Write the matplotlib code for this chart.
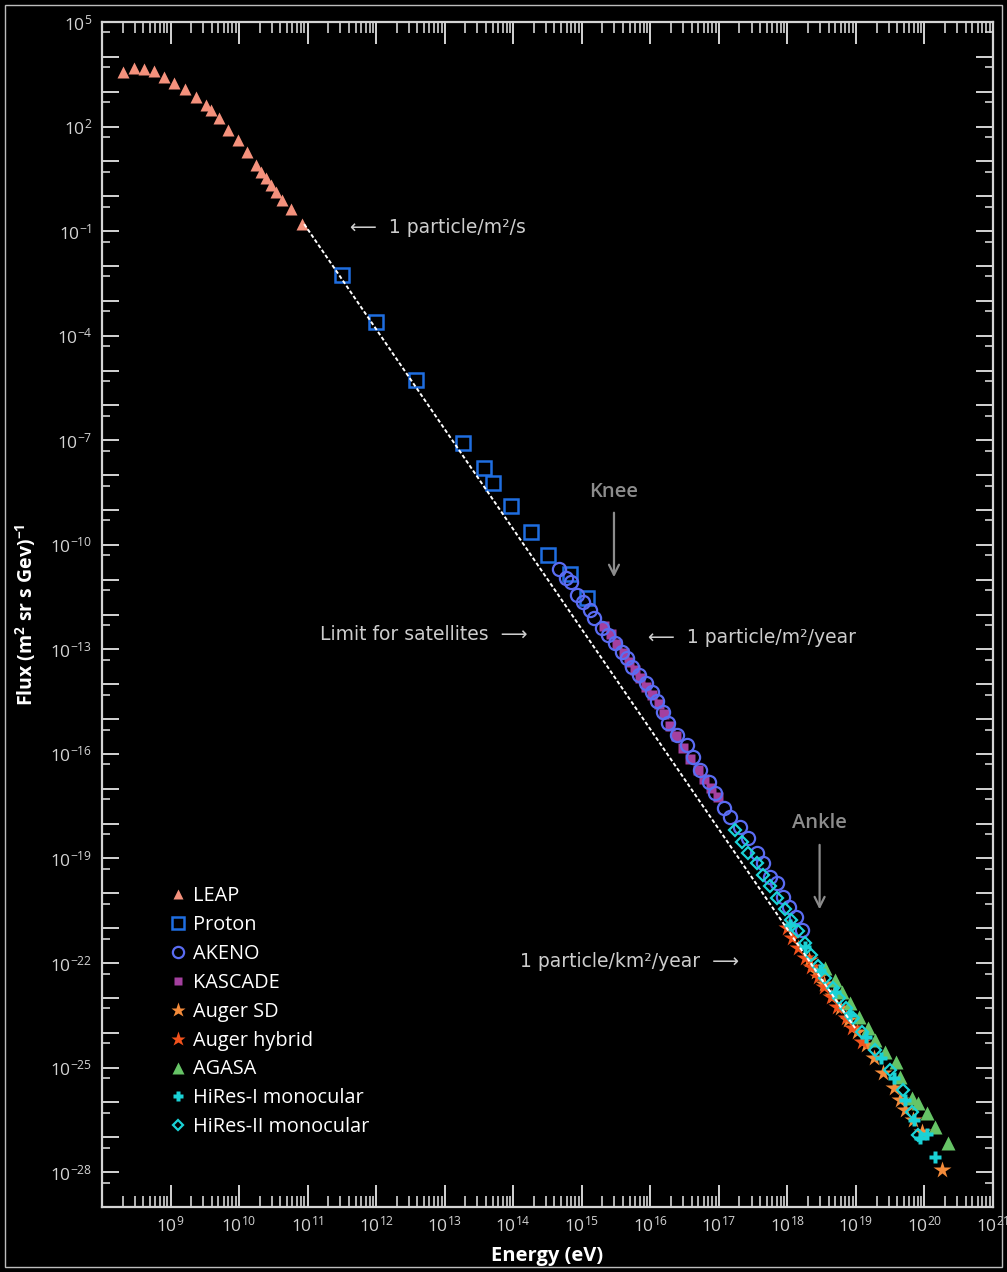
import numpy as np
import matplotlib
matplotlib.use('Agg')
import matplotlib.pyplot as plt
from matplotlib.ticker import FixedLocator, FuncFormatter, NullFormatter
from matplotlib.patches import Rectangle

# =============================================================================
#  Data (log10 energy in eV, log10 flux)
# =============================================================================

leap_logE = [8.31, 8.46, 8.61, 8.76, 8.91, 9.05, 9.21, 9.37, 9.52, 9.59, 9.71,
             9.84, 9.98, 10.11, 10.25, 10.32, 10.39, 10.46, 10.54, 10.62, 10.76, 10.92]
leap_logF = [3.57, 3.67, 3.65, 3.60, 3.41, 3.24, 3.07, 2.86, 2.62, 2.48, 2.24,
             1.90, 1.61, 1.28, 0.90, 0.70, 0.52, 0.32, 0.13, -0.11, -0.37, -0.80]

proton_logE = [11.50, 12.00, 12.58, 13.26, 13.57, 13.71, 13.97, 14.26, 14.50, 14.83, 15.08]
proton_logF = [-2.26, -3.60, -5.27, -7.07, -7.81, -8.24, -8.89, -9.63, -10.29, -10.84, -11.53]

akeno_logE = [14.67, 14.77, 14.85, 14.93, 15.02, 15.12, 15.18, 15.30, 15.39, 15.49,
              15.59, 15.66, 15.74, 15.83, 15.93, 16.02, 16.10, 16.18, 16.26, 16.39,
              16.54, 16.63, 16.73, 16.85, 16.95, 17.07, 17.17, 17.31, 17.43, 17.56,
              17.65, 17.75, 17.85, 17.93, 18.02, 18.12, 18.22]
akeno_logF = [-10.70, -10.95, -11.07, -11.44, -11.64, -11.87, -12.10, -12.39, -12.59, -12.82,
              -13.08, -13.25, -13.51, -13.74, -13.97, -14.23, -14.48, -14.80, -15.12, -15.46,
              -15.75, -16.09, -16.46, -16.81, -17.12, -17.55, -17.81, -18.10, -18.42, -18.85,
              -19.13, -19.53, -19.71, -20.11, -20.40, -20.68, -21.06]

kascade_logE = [15.33, 15.42, 15.52, 15.61, 15.69, 15.78, 15.85, 15.94, 16.03, 16.12,
                16.20, 16.29, 16.38, 16.48, 16.58, 16.69, 16.79, 16.89, 16.99]
kascade_logF = [-12.33, -12.56, -12.85, -13.11, -13.36, -13.59, -13.82, -14.08, -14.31, -14.57,
                -14.86, -15.20, -15.49, -15.83, -16.15, -16.46, -16.72, -16.98, -17.24]

auger_sd_logE = [18.31, 18.42, 18.54, 18.66, 18.77, 18.89, 19.01, 19.14, 19.26, 19.40,
                 19.55, 19.65, 19.72, 19.84, 19.97, 20.26]
auger_sd_logF = [-21.92, -22.26, -22.60, -22.95, -23.29, -23.64, -23.98, -24.35, -24.73, -25.16,
                 -25.59, -25.93, -26.22, -26.51, -26.85, -27.94]

auger_hy_logE = [17.99, 18.07, 18.16, 18.25, 18.34, 18.44, 18.53, 18.63, 18.73, 18.85, 18.95, 19.09]
auger_hy_logF = [-21.00, -21.28, -21.57, -21.86, -22.12, -22.40, -22.69, -22.98, -23.26, -23.58,
                 -23.87, -24.27]

agasa_logE = [18.55, 18.70, 18.80, 18.92, 19.04, 19.17, 19.28, 19.43, 19.58, 19.65,
              19.82, 19.91, 20.04, 20.16, 20.35]
agasa_logF = [-22.15, -22.49, -22.83, -23.15, -23.55, -23.87, -24.21, -24.56, -24.84, -25.27,
              -25.88, -26.02, -26.31, -26.71, -27.17]

hires1_logE = [18.04, 18.26, 18.48, 18.70, 18.92, 19.14, 19.36, 19.55, 19.72, 19.85,
               19.93, 20.04, 20.16]
hires1_logF = [-20.91, -21.54, -22.20, -22.83, -23.49, -24.13, -24.73, -25.30, -25.93, -26.51,
               -27.02, -26.91, -27.57]

hires2_logE = [17.24, 17.34, 17.43, 17.56, 17.65, 17.75, 17.85, 17.96, 18.06, 18.16,
               18.25, 18.35, 18.45, 18.55, 18.66, 18.76, 18.86, 18.96, 19.09, 19.28,
               19.49, 19.68, 19.82, 19.91]
hires2_logF = [-18.19, -18.53, -18.85, -19.13, -19.48, -19.79, -20.14, -20.45, -20.77, -21.08,
               -21.43, -21.77, -22.09, -22.43, -22.72, -23.01, -23.29, -23.58, -23.98, -24.50,
               -25.07, -25.65, -26.28, -26.94]

# extrapolated spectrum (dashed white line), end points
line_logE = [10.95, 19.00]
line_logF = [-0.80, -23.90]

# tick labels
xlabel_exps = list(range(9, 22))
ylabel_exps = [5, 2, -1, -4, -7, -10, -13, -16, -19, -22, -25, -28]

# =============================================================================
#  Style
# =============================================================================

plt.rcParams['font.family'] = ['Open Sans', 'DejaVu Sans']
plt.rcParams['mathtext.fontset'] = 'custom'
plt.rcParams['mathtext.rm'] = 'Open Sans'
plt.rcParams['mathtext.it'] = 'Open Sans:italic'
plt.rcParams['mathtext.bf'] = 'Open Sans:bold'
plt.rcParams['mathtext.default'] = 'regular'

fg = '#d4d4d4'
ann = '#cdcdcd'
grey = '#8c8c8c'

fig = plt.figure(figsize=(10.07, 12.72), dpi=100, facecolor='black')
ax = fig.add_axes([102 / 1007, 1 - 1207 / 1272, 891 / 1007, 1185 / 1272])
ax.set_facecolor('black')
ax.set_xscale('log')
ax.set_yscale('log')
ax.set_xlim(1e8, 1e21)
ax.set_ylim(1e-29, 1e5)

def p(a):
    return 10.0 ** np.asarray(a)

# dashed reference line
ax.plot(p(line_logE), p(line_logF), color='white', lw=1.4,
        linestyle=(0, (2.0, 1.2)), zorder=6)

# data series
ax.plot(p(leap_logE), p(leap_logF), ls='none', marker='^', ms=8.5,
        color='#f4917c', mec='none', label='LEAP', zorder=3)
ax.plot(p(proton_logE), p(proton_logF), ls='none', marker='s', ms=10,
        mfc='none', mec='#1f6ee0', mew=1.8, label='Proton', zorder=3)
ax.plot(p(akeno_logE), p(akeno_logF), ls='none', marker='o', ms=9.5,
        mfc='none', mec='#5a6cf2', mew=1.6, label='AKENO', zorder=4)
ax.plot(p(kascade_logE), p(kascade_logF), ls='none', marker='s', ms=7,
        color='#a4409f', mec='none', label='KASCADE', zorder=3)
ax.plot(p(auger_sd_logE), p(auger_sd_logF), ls='none', marker='*', ms=13,
        color='#f48b3a', mec='none', label='Auger SD', zorder=4)
ax.plot(p(auger_hy_logE), p(auger_hy_logF), ls='none', marker='*', ms=13,
        color='#f2521c', mec='none', label='Auger hybrid', zorder=4)
ax.plot(p(agasa_logE), p(agasa_logF), ls='none', marker='^', ms=10.5,
        color='#66c466', mec='none', label='AGASA', zorder=4)
ax.plot(p(hires1_logE), p(hires1_logF), ls='none', marker='P', ms=9,
        color='#1ad2d6', mec='none', label='HiRes-I monocular', zorder=5)
ax.plot(p(hires2_logE), p(hires2_logF), ls='none', marker='D', ms=6,
        mfc='none', mec='#1ad2d6', mew=1.6, label='HiRes-II monocular', zorder=5)

# =============================================================================
#  Axes, ticks
# =============================================================================

for s in ax.spines.values():
    s.set_color(fg)
    s.set_linewidth(1.6)

ax.xaxis.set_major_locator(FixedLocator(10.0 ** np.arange(8, 22)))
ax.xaxis.set_minor_locator(FixedLocator([m * 10.0 ** k for k in range(8, 21) for m in range(2, 10)]))
ax.xaxis.set_major_formatter(FuncFormatter(
    lambda v, pos: r'10$^{%d}$' % round(np.log10(v)) if round(np.log10(v)) in xlabel_exps else ''))
ax.xaxis.set_minor_formatter(NullFormatter())

ax.yaxis.set_major_locator(FixedLocator(10.0 ** np.arange(-29, 6)))
ax.yaxis.set_minor_locator(FixedLocator(5 * 10.0 ** np.arange(-30, 5)))
ax.yaxis.set_major_formatter(FuncFormatter(
    lambda v, pos: r'10$^{%d}$' % round(np.log10(v)) if round(np.log10(v)) in ylabel_exps else ''))
ax.yaxis.set_minor_formatter(NullFormatter())

ax.tick_params(axis='x', which='major', direction='in', top=True, bottom=True,
               length=16, width=1.4, color=fg, labelcolor=fg, labelsize=12.5, pad=6)
ax.tick_params(axis='x', which='minor', direction='in', top=True, bottom=True,
               length=8, width=1.2, color=fg)
ax.tick_params(axis='y', which='major', direction='in', left=True, right=True,
               length=12, width=1.4, color=fg, labelcolor=fg, labelsize=12.5, pad=7)
ax.tick_params(axis='y', which='minor', direction='in', left=True, right=True,
               length=5.5, width=1.2, color=fg)

ax.set_xlabel('Energy (eV)', color='white', fontsize=14.5, fontweight='bold', labelpad=8)
ax.set_ylabel(r'Flux (m$^{\mathbf{2}}$ sr s Gev)$^{\mathbf{-1}}$', color='white',
              fontsize=14, fontweight='bold')
ax.yaxis.set_label_coords(-0.072, 0.5)

# =============================================================================
#  Annotations
# =============================================================================

txt_kw = dict(color=ann, fontsize=13.5, family=['DejaVu Sans'], va='center', ha='left')
ax.text(10 ** 11.62, 10 ** -0.91, '\u27f5  1 particle/m\u00b2/s', **txt_kw)
ax.text(10 ** 11.18, 10 ** -12.56, 'Limit for satellites  \u27f6', **txt_kw)
ax.text(10 ** 15.97, 10 ** -12.65, '\u27f5  1 particle/m\u00b2/year', **txt_kw)
ax.text(10 ** 14.10, 10 ** -21.97, '1 particle/km\u00b2/year  \u27f6', **txt_kw)

arrow_kw = dict(arrowstyle='->', color=grey, lw=1.6, mutation_scale=18)
ax.annotate('', xy=(10 ** 15.47, 10 ** -11.01), xytext=(10 ** 15.47, 10 ** -9.0),
            arrowprops=arrow_kw)
ax.text(10 ** 15.47, 10 ** -8.49, 'Knee', color=grey, fontsize=14.5, fontweight='semibold',
        ha='center', va='center')
ax.annotate('', xy=(10 ** 18.47, 10 ** -20.54), xytext=(10 ** 18.47, 10 ** -18.53),
            arrowprops=arrow_kw)
ax.text(10 ** 18.47, 10 ** -17.98, 'Ankle', color=grey, fontsize=14.5, fontweight='semibold',
        ha='center', va='center')

# legend
leg = ax.legend(loc='upper left', bbox_to_anchor=(0.0763, 0.271), frameon=False,
                fontsize=14.3, labelcolor='white', handlelength=0.8, handletextpad=0.35,
                labelspacing=0.45, markerscale=0.85, borderaxespad=0, borderpad=0)

# thin frame around the whole picture
fig.patches.append(Rectangle((5 / 1007, 5 / 1272), 997 / 1007, 1262 / 1272,
                             transform=fig.transFigure, fill=False,
                             edgecolor='#bdbdbd', lw=1.0))

fig.savefig('out.png', dpi=100, facecolor='black')
